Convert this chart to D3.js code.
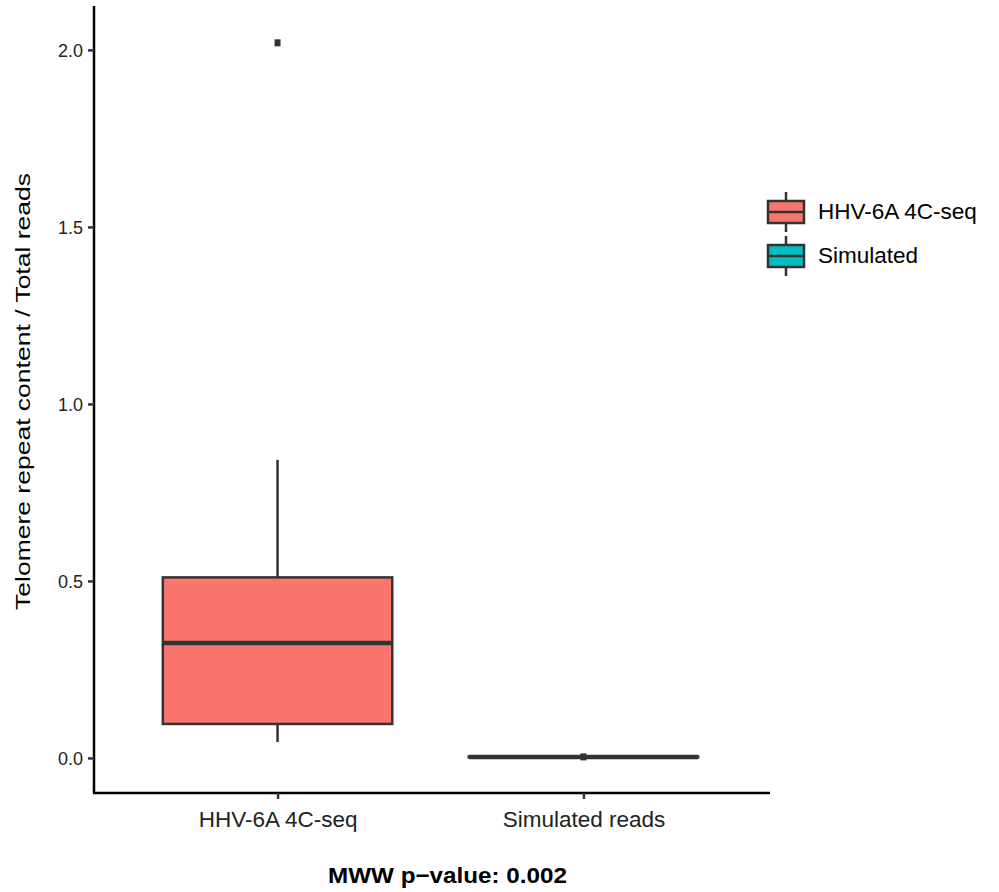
<!DOCTYPE html>
<html><head><meta charset="utf-8">
<script src="https://cdn.jsdelivr.net/npm/d3@7"></script>
<style>body{margin:0;background:#fff}svg{display:block;font-family:"Liberation Sans",Arial,sans-serif}</style>
</head><body><svg id="c" width="999" height="892"></svg>
<script>
const categories = ["HHV-6A 4C-seq", "Simulated reads"];
const legendLabels = ["HHV-6A 4C-seq", "Simulated"];
const colors = ["#F8766D", "#00BFC4"];
const lowerWhisker = [0.045, 0.002];
const q1 = [0.096, 0.002];
const median = [0.325, 0.003];
const q3 = [0.51, 0.004];
const upperWhisker = [0.842, 0.005];
const outliers = [[2.02], [0.003]];
const yTicks = [0.0, 0.5, 1.0, 1.5, 2.0];

(function () {
const svg = d3.select("#c");
const pL = 94, pR = 767, pT = 6, pB = 793;
const y = d3.scaleLinear().domain([-0.099, 2.124]).range([pB, pT]);
const x = d3.scaleLinear().domain([0.4, 2.6]).range([pL, pR]);
const boxW = x(1.375) - x(1);

const stroke = "#333333";
categories.forEach((c, i) => {
  const cx = x(i + 1);
  const g = svg.append("g");
  g.append("line").attr("x1", cx).attr("x2", cx).attr("y1", y(q3[i])).attr("y2", y(upperWhisker[i])).attr("stroke", stroke).attr("stroke-width", 2.5);
  g.append("line").attr("x1", cx).attr("x2", cx).attr("y1", y(q1[i])).attr("y2", y(lowerWhisker[i])).attr("stroke", stroke).attr("stroke-width", 2.5);
  g.append("rect").attr("x", cx - boxW).attr("width", 2 * boxW)
    .attr("y", y(q3[i])).attr("height", Math.max(0.5, y(q1[i]) - y(q3[i])))
    .attr("fill", colors[i]).attr("stroke", stroke).attr("stroke-width", 2.5);
  g.append("line").attr("x1", cx - boxW).attr("x2", cx + boxW).attr("y1", y(median[i])).attr("y2", y(median[i])).attr("stroke", stroke).attr("stroke-width", 4.5);
  outliers[i].forEach(v => {
    g.append("rect").attr("x", cx - 3).attr("y", y(v) - 3.5).attr("width", 6).attr("height", 7).attr("fill", stroke);
  });
});

const yAxis = svg.append("g").attr("transform", `translate(${pL},0)`)
  .call(d3.axisLeft(y).tickValues(yTicks).tickFormat(d3.format(".1f")).tickSize(6).tickSizeOuter(0));
yAxis.select(".domain").attr("stroke", "#000").attr("stroke-width", 2.5).attr("d", `M0,${pT}V${pB}`);
yAxis.selectAll(".tick line").attr("stroke", "#333").attr("stroke-width", 2.5);
yAxis.selectAll(".tick text").attr("font-size", 18).attr("fill", "#222").attr("x", -11).attr("dy", "0.36em");

const xAxis = svg.append("g").attr("transform", `translate(0,${pB})`)
  .call(d3.axisBottom(x).tickValues([1, 2]).tickFormat(d => categories[d - 1]).tickSize(6).tickSizeOuter(0));
xAxis.select(".domain").attr("stroke", "#000").attr("stroke-width", 2.5).attr("d", `M${pL - 1},0H${pR + 3}`);
xAxis.selectAll(".tick line").attr("stroke", "#333").attr("stroke-width", 2.5);
xAxis.selectAll(".tick text").attr("font-size", 22.5).attr("fill", "#222").attr("y", 34).attr("dy", 0);

svg.append("text").attr("transform", `translate(30,391.5) rotate(-90)`)
  .attr("text-anchor", "middle").attr("font-size", 21).attr("fill", "#000")
  .attr("textLength", 437).attr("lengthAdjust", "spacingAndGlyphs")
  .text("Telomere repeat content / Total reads");

svg.append("text").attr("x", 447.5).attr("y", 883).attr("text-anchor", "middle")
  .attr("font-size", 22).attr("font-weight", "bold").attr("fill", "#000")
  .attr("textLength", 239).attr("lengthAdjust", "spacingAndGlyphs")
  .text("MWW p\u2212value: 0.002");

const leg = svg.append("g");
legendLabels.forEach((l, i) => {
  const cy = 212 + i * 44, kx = 768, kw = 36;
  leg.append("line").attr("x1", kx + kw / 2).attr("x2", kx + kw / 2).attr("y1", cy - 20).attr("y2", cy + 20).attr("stroke", stroke).attr("stroke-width", 2.5);
  leg.append("rect").attr("x", kx).attr("y", cy - 11).attr("width", kw).attr("height", 22).attr("fill", colors[i]).attr("stroke", stroke).attr("stroke-width", 2.5);
  leg.append("line").attr("x1", kx).attr("x2", kx + kw).attr("y1", cy).attr("y2", cy).attr("stroke", stroke).attr("stroke-width", 2.5);
  leg.append("text").attr("x", 818).attr("y", cy + 7).attr("font-size", 22.5).attr("fill", "#000").text(l);
});
})();
</script></body></html>
